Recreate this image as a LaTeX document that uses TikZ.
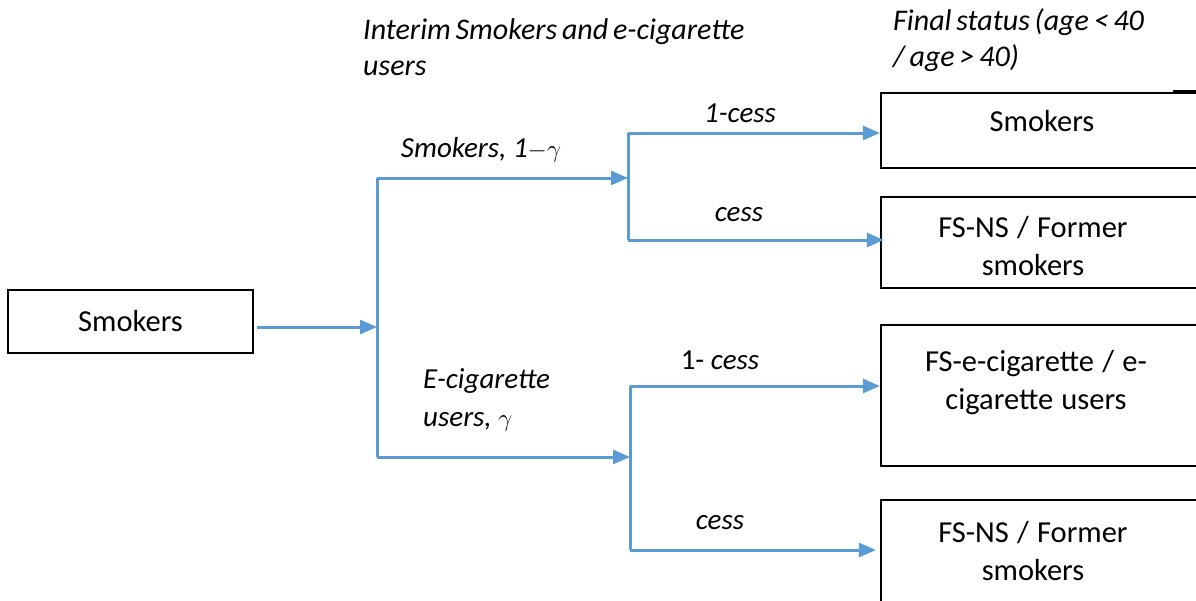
\documentclass[tikz,border=0pt]{standalone}
\usepackage{fontspec}
\setmainfont{Carlito}
\usetikzlibrary{arrows.meta}
\definecolor{flow}{HTML}{5B9BD5}
\newcommand\myboxfont{\fontsize{30.5}{38}\selectfont\spaceskip=0.27em plus 0.1em\relax}
\newcommand\myhdrfont{\fontsize{30}{36}\selectfont\itshape\spaceskip=0.16em\relax}
\tikzset{
  box/.style={draw=black, line width=2.2pt, inner sep=0pt},
  boxtext/.style={font=\myboxfont, align=center, inner sep=0pt},
  lbl/.style={font=\fontsize{29}{38}\selectfont\itshape, inner sep=0pt},
  hdr/.style={font=\myhdrfont, align=left, anchor=west, inner sep=0pt},
  flowline/.style={draw=flow, line width=3pt},
  flowarrow/.style={flowline, -{Triangle[length=17pt,width=14pt]}}
}
\begin{document}
\begin{tikzpicture}[x=1pt,y=-1pt]
\useasboundingbox (0,0) rectangle (1196,600);
\clip (0,0) rectangle (1196,600);
% headers
\node[hdr] (h1) at (363,47) {Interim Smokers and e-cigarette\\users};
\node[hdr] (h2) at (893,40) {Final status (age < 40\\/ age > 40)};
% source
\node[box, minimum width=245, minimum height=63] (src) at (130.5,321.5) {};
\node[boxtext] (srct) at (130.5,321) {Smokers};
% right boxes
\node[box, minimum width=340, minimum height=75] (b1) at (1051,130.5) {};
\node[boxtext] (b1t) at (1042,121) {Smokers};
\node[box, minimum width=340, minimum height=91] (b2) at (1051,242.5) {};
\node[boxtext] (b2t) at (1033,246) {FS-NS / Former\\smokers};
\node[box, minimum width=340, minimum height=141] (b3) at (1051,395.5) {};
\node[boxtext] (b3t) at (1036,383) {FS-e-cigarette / e-\\cigarette users};
\node[box, minimum width=340, minimum height=140] (b4) at (1051,570) {};
\node[boxtext] (b4t) at (1033,551) {FS-NS / Former\\smokers};
\coordinate (stubA) at (1173,91);
\coordinate (stubB) at (1200,91);
\draw[line width=2.2pt] (stubA) -- (stubB);
% junctions
\coordinate (j1t) at (377,178);
\coordinate (j1m) at (377,327);
\coordinate (j1b) at (377,457);
\coordinate (j2t) at (628,133);
\coordinate (j2m) at (628,178);
\coordinate (j2b) at (628,240);
\coordinate (j3t) at (630,386);
\coordinate (j3m) at (630,457);
\coordinate (j3b) at (630,550);
% connectors
\draw[flowarrow] ([xshift=3pt]src.east |- j1m) -- (j1m);
\draw[flowline] (j1t) -- (j1b);
\draw[flowarrow] (j1t) -- (j2m);
\draw[flowarrow] (j1b) -- (j3m);
\draw[flowline] (j2t) -- (j2b);
\draw[flowline] (j3t) -- (j3b);
\draw[flowarrow] (j2t) -- (b1.west |- j2t);
\draw[flowarrow] (j2b) -- ([xshift=4pt]b2.west |- j2b);
\draw[flowarrow] (j3t) -- (b3.west |- j3t);
\draw[flowarrow] (j3b) -- ([xshift=-4pt]b4.west |- j3b);
% labels
\node[lbl] (l1) at (481,150) {Smokers, $\mathit{1}{-}\gamma$};
\node[lbl] (l2) at (740,113) {1-cess};
\node[lbl] (l3) at (739,215) {cess};
\node[lbl] (l4) at (720,360) {\upshape 1- \itshape cess};
\node[lbl] (l5) at (720,523) {cess};
\node[lbl, align=left, anchor=west] (l6) at (423,400) {E-cigarette\\users, $\gamma$};
\end{tikzpicture}
\end{document}
